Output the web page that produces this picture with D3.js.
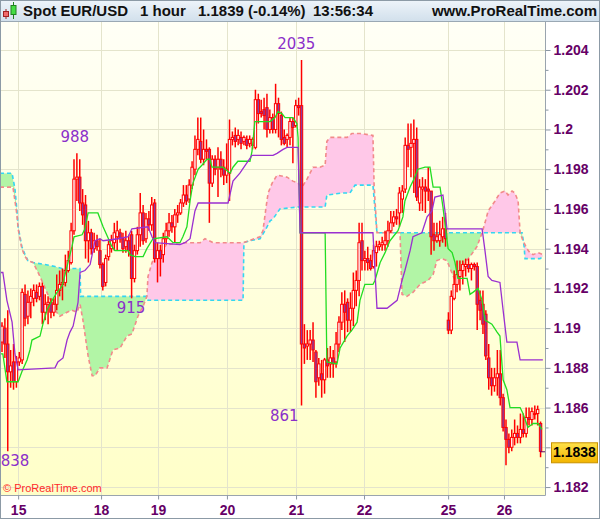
<!DOCTYPE html>
<html>
<head>
<meta charset="utf-8">
<script src="https://cdn.jsdelivr.net/npm/d3@7"></script>
<style>
body { margin: 0; background: #fff; }
svg { display: block; font-family: "Liberation Sans", Arial, sans-serif; }
</style>
</head>
<body>
<svg id="chart" width="600" height="519"></svg>
<script>
// hourly candles, one entry per bar (bar index = position)
var open = [
1.1893,1.1900,1.1892,1.1878,1.1883,1.1873,1.1883,1.1884,1.1917,1.1906,
1.1913,1.1915,1.1918,1.1916,1.1921,1.1908,1.1912,1.1913,1.1908,1.1912,
1.1919,1.1922,1.1923,1.1929,1.1933,1.1949,1.1975,1.1976,1.1963,1.1962,
1.1944,1.1948,1.1940,1.1944,1.1939,1.1932,1.1923,1.1936,1.1940,1.1943,
1.1946,1.1948,1.1945,1.1941,1.1944,1.1947,1.1925,1.1939,1.1947,1.1958,
1.1945,1.1955,1.1952,1.1963,1.1935,1.1939,1.1937,1.1945,1.1949,1.1953,
1.1951,1.1957,1.1958,1.1963,1.1967,1.1965,1.1972,1.1980,1.1990,1.1994,
1.1985,1.1990,1.1990,1.1973,1.1985,1.1981,1.1985,1.1981,1.1977,1.1978,
1.1995,1.1997,1.1995,1.1996,1.1994,1.1995,1.1993,1.1992,1.1991,1.2015,
1.2009,1.2010,1.2011,1.2000,1.2006,1.2000,1.2013,1.2007,1.1996,1.1995,
1.1996,1.2004,1.2002,1.2012,1.2012,1.1892,1.1891,1.1892,1.1894,1.1888,
1.1875,1.1877,1.1874,1.1884,1.1882,1.1885,1.1883,1.1892,1.1903,1.1912,
1.1913,1.1904,1.1910,1.1919,1.1924,1.1944,1.1934,1.1935,1.1934,1.1931,
1.1938,1.1941,1.1942,1.1942,1.1944,1.1949,1.1953,1.1956,1.1958,1.1965,
1.1970,1.1992,1.1991,1.1993,1.1995,1.1963,1.1970,1.1971,1.1970,1.1969,
1.1947,1.1944,1.1944,1.1946,1.1950,1.1904,1.1899,1.1915,1.1922,1.1926,
1.1929,1.1931,1.1932,1.1930,1.1932,1.1931,1.1914,1.1912,1.1907,1.1885,
1.1875,1.1871,1.1875,1.1877,1.1865,1.1850,1.1844,1.1840,1.1845,1.1847,
1.1845,1.1849,1.1847,1.1855,1.1854,1.1857,1.1857,1.1852];
var close = [
1.1901,1.1892,1.1878,1.1881,1.1873,1.1883,1.1885,1.1918,1.1905,1.1913,
1.1916,1.1919,1.1915,1.1921,1.1908,1.1912,1.1913,1.1908,1.1912,1.1919,
1.1922,1.1923,1.1929,1.1934,1.1949,1.1975,1.1976,1.1963,1.1957,1.1944,
1.1948,1.1940,1.1944,1.1941,1.1932,1.1921,1.1935,1.1942,1.1944,1.1948,
1.1949,1.1945,1.1940,1.1944,1.1939,1.1925,1.1939,1.1947,1.1958,1.1944,
1.1955,1.1952,1.1962,1.1935,1.1939,1.1935,1.1945,1.1949,1.1953,1.1951,
1.1957,1.1958,1.1963,1.1967,1.1964,1.1972,1.1981,1.1990,1.1995,1.1985,
1.1990,1.1989,1.1973,1.1985,1.1980,1.1985,1.1980,1.1977,1.1980,1.1995,
1.1996,1.1994,1.1997,1.1993,1.1996,1.1992,1.1995,1.1995,1.2015,1.2008,
1.2008,1.2007,1.2000,1.2006,1.2000,1.2013,1.2008,1.1995,1.1993,1.1997,
1.2004,1.2001,1.2012,1.2011,1.1892,1.1890,1.1892,1.1894,1.1889,1.1873,
1.1882,1.1874,1.1884,1.1881,1.1885,1.1882,1.1892,1.1903,1.1912,1.1908,
1.1904,1.1910,1.1919,1.1924,1.1943,1.1934,1.1935,1.1933,1.1930,1.1939,
1.1941,1.1942,1.1943,1.1944,1.1949,1.1953,1.1956,1.1955,1.1968,1.1969,
1.1992,1.1990,1.1993,1.1995,1.1966,1.1971,1.1971,1.1969,1.1969,1.1946,
1.1944,1.1946,1.1947,1.1950,1.1945,1.1899,1.1916,1.1922,1.1927,1.1929,
1.1932,1.1932,1.1930,1.1932,1.1931,1.1912,1.1909,1.1902,1.1886,1.1875,
1.1871,1.1875,1.1877,1.1865,1.1850,1.1844,1.1840,1.1845,1.1847,1.1845,
1.1849,1.1847,1.1855,1.1854,1.1858,1.1857,1.1859,1.1838];
var high = [
1.1903,1.1905,1.1909,1.1889,1.1892,1.1886,1.1888,1.1920,1.1922,1.1919,
1.1920,1.1922,1.1922,1.1923,1.1923,1.1917,1.1916,1.1915,1.1915,1.1927,
1.1929,1.1930,1.1937,1.1939,1.1953,1.1985,1.1988,1.1985,1.1970,1.1967,
1.1954,1.1950,1.1948,1.1947,1.1945,1.1933,1.1937,1.1944,1.1947,1.1953,
1.1954,1.1950,1.1948,1.1949,1.1947,1.1949,1.1942,1.1951,1.1968,1.1962,
1.1958,1.1959,1.1966,1.1965,1.1943,1.1942,1.1948,1.1953,1.1958,1.1957,
1.1960,1.1962,1.1965,1.1972,1.1972,1.1975,1.1984,1.1997,1.2006,1.2006,
1.2000,1.1995,1.1991,1.1987,1.1987,1.1991,1.1989,1.1985,1.1993,1.2005,
1.1999,1.2001,1.2000,1.1999,1.1997,1.1997,1.1997,1.1996,1.2020,1.2018,
1.2015,1.2016,1.2018,1.2010,1.2008,1.2023,1.2016,1.2009,1.2000,1.1998,
1.2006,1.2006,1.2015,1.2016,1.2035,1.1902,1.1899,1.1899,1.1903,1.1889,
1.1885,1.1884,1.1885,1.1890,1.1891,1.1889,1.1898,1.1906,1.1918,1.1919,
1.1915,1.1918,1.1928,1.1929,1.1953,1.1953,1.1939,1.1941,1.1937,1.1942,
1.1944,1.1944,1.1946,1.1949,1.1954,1.1959,1.1959,1.1960,1.1971,1.1972,
1.1996,1.2003,1.2003,1.2005,1.2001,1.1975,1.1976,1.1975,1.1981,1.1969,
1.1953,1.1953,1.1954,1.1956,1.1958,1.1908,1.1919,1.1929,1.1934,1.1934,
1.1934,1.1935,1.1935,1.1933,1.1933,1.1933,1.1919,1.1919,1.1909,1.1892,
1.1880,1.1880,1.1889,1.1889,1.1867,1.1854,1.1847,1.1849,1.1854,1.1851,
1.1857,1.1857,1.1860,1.1860,1.1860,1.1861,1.1861,1.1853];
var low = [
1.1888,1.1885,1.1838,1.1870,1.1869,1.1870,1.1881,1.1882,1.1901,1.1902,
1.1905,1.1911,1.1913,1.1914,1.1902,1.1904,1.1902,1.1905,1.1906,1.1909,
1.1916,1.1914,1.1921,1.1928,1.1932,1.1947,1.1964,1.1959,1.1952,1.1935,
1.1933,1.1937,1.1938,1.1939,1.1930,1.1919,1.1921,1.1934,1.1938,1.1939,
1.1939,1.1943,1.1938,1.1938,1.1936,1.1915,1.1923,1.1937,1.1941,1.1942,
1.1943,1.1949,1.1949,1.1933,1.1923,1.1926,1.1933,1.1942,1.1946,1.1948,
1.1943,1.1953,1.1957,1.1961,1.1962,1.1963,1.1970,1.1977,1.1987,1.1983,
1.1982,1.1985,1.1953,1.1971,1.1977,1.1966,1.1976,1.1972,1.1973,1.1964,
1.1992,1.1991,1.1992,1.1990,1.1992,1.1990,1.1991,1.1990,1.1990,1.2003,
1.2006,1.2000,1.1996,1.1998,1.1998,1.1998,1.1996,1.1992,1.1992,1.1991,
1.1992,1.1983,1.2001,1.2007,1.1861,1.1882,1.1884,1.1884,1.1883,1.1865,
1.1871,1.1865,1.1867,1.1875,1.1875,1.1875,1.1880,1.1888,1.1899,1.1893,
1.1898,1.1898,1.1901,1.1911,1.1916,1.1929,1.1929,1.1929,1.1929,1.1930,
1.1931,1.1939,1.1939,1.1939,1.1941,1.1948,1.1951,1.1952,1.1951,1.1958,
1.1968,1.1981,1.1976,1.1968,1.1964,1.1959,1.1959,1.1958,1.1964,1.1937,
1.1939,1.1943,1.1941,1.1943,1.1941,1.1897,1.1897,1.1914,1.1918,1.1919,
1.1922,1.1926,1.1928,1.1924,1.1929,1.1899,1.1904,1.1897,1.1884,1.1869,
1.1866,1.1868,1.1866,1.1861,1.1848,1.1831,1.1837,1.1838,1.1841,1.1842,
1.1842,1.1845,1.1845,1.1851,1.1851,1.1854,1.1851,1.1835];

// indicator lines as [bar index, price] vertices
var tenkan = [[-0.7,1.1887],[0.3,1.1887],[1.7,1.1873],[5.6,1.1873],[6.9,1.1878],[8.7,1.1884],[9.7,1.1889],
[10.4,1.1894],[13.2,1.1896],[14.2,1.1902],[15.6,1.1909],[17.4,1.1914],[19.1,1.1918],[20.8,1.1921],
[21.9,1.1927],[22.9,1.1933],[24.3,1.1941],[25,1.1946],[27.8,1.1947],[28.8,1.1950],[29.9,1.1958],
[33.3,1.1958],[35.1,1.1951],[38.2,1.1941],[39.2,1.1939],[43.8,1.1939],[44.4,1.1937],[46.2,1.1936],
[49,1.1936],[50.3,1.1940],[52.4,1.1945],[57.3,1.1946],[59.4,1.1943],[61.8,1.1943],[62.8,1.1946],
[64.2,1.1951],[65.3,1.1964],[66.3,1.1973],[68.1,1.1980],[69.4,1.1982],[71.2,1.1985],[72.2,1.1985],
[72.9,1.1981],[76.7,1.1981],[79.2,1.1978],[80.2,1.1981],[81.9,1.1984],[86.1,1.1984],[86.8,1.1989],
[87.8,1.2004],[93.1,1.2004],[94.8,1.2006],[95.8,1.2009],[97.2,1.2008],[98.3,1.2006],[101,1.2006],
[102.4,1.2003],[102.8,1.1996],[103.5,1.1948],[112.2,1.1948],[112.8,1.1883],[116.3,1.1882],
[117.4,1.1890],[119.8,1.1896],[121.5,1.1899],[123.3,1.1903],[124.3,1.1914],[126,1.1922],
[128.8,1.1922],[129.5,1.1924],[131.3,1.1933],[133,1.1938],[134.7,1.1944],[135.8,1.1946],
[137.5,1.1949],[139.2,1.1956],[139.9,1.1964],[141.7,1.1971],[142.7,1.1974],[144.4,1.1980],
[146.9,1.1981],[148.6,1.1981],[149.7,1.1971],[152.1,1.1971],[153.1,1.1961],[154.9,1.1940],
[156.3,1.1938],[157.3,1.1933],[158.3,1.1925],[161.5,1.1925],[162.5,1.1917],[163.5,1.1918],
[165.3,1.1920],[166.7,1.1914],[167.7,1.1904],[170.1,1.1902],[171.9,1.1898],[172.9,1.1896],
[174,1.1874],[175.3,1.1869],[176.4,1.1860],[179.9,1.1860],[180.9,1.1857],[182.6,1.1850],
[184.4,1.1852],[186.1,1.1852],[187.5,1.1849]];
var kijun = [[-0.7,1.1928],[0.3,1.1928],[1.7,1.1914],[3.5,1.1903],[4.5,1.1887],[5.6,1.1879],
[18.4,1.1880],[19.4,1.1883],[21.2,1.1885],[22.6,1.1894],[23.6,1.1898],[24.7,1.1901],[26.4,1.1913],
[27.1,1.1928],[28.8,1.1929],[30.6,1.1932],[32.3,1.1944],[34,1.1945],[35.1,1.1944],[40.3,1.1945],
[43.8,1.1946],[45.1,1.1950],[50.7,1.1951],[52.1,1.1946],[53.1,1.1943],[61.8,1.1942],[63.5,1.1943],
[65.3,1.1945],[67,1.1959],[68.1,1.1963],[78.5,1.1963],[80.2,1.1974],[82.6,1.1978],[86.8,1.1987],
[94.1,1.1987],[95.5,1.1988],[97.6,1.1990],[99,1.1991],[102.8,1.1991],[103.5,1.1948],[128.8,1.1948],
[130.2,1.1910],[133.7,1.1910],[137.2,1.1914],[138.9,1.1924],[139.9,1.1929],[141.7,1.1939],
[142.7,1.1946],[145.8,1.1948],[147.6,1.1956],[149.3,1.1959],[150.3,1.1966],[153.1,1.1967],
[153.8,1.1959],[154.5,1.1950],[166.7,1.1950],[167.7,1.1939],[168.8,1.1926],[170.1,1.1924],
[172.9,1.1923],[174,1.1909],[175.3,1.1893],[178.8,1.1893],[179.9,1.1884],[187.8,1.1884]];
// cloud edges
var spanA = [[-0.7,1.1971],[3.8,1.1971],[4.5,1.1964],[5.2,1.1957],[5.6,1.1950],[6.9,1.1940],[8,1.1936],
[9,1.1934],[10.8,1.1933],[13.2,1.1926],[15.6,1.1918],[18.4,1.1909],[20.1,1.1906],[22.6,1.1908],
[24.3,1.1909],[26,1.1908],[27.1,1.1912],[28.1,1.1904],[29.9,1.1886],[31.3,1.1876],[32.3,1.1876],
[34,1.1880],[36.5,1.1880],[38.5,1.1889],[41,1.1890],[43.4,1.1896],[45.1,1.1897],[47.2,1.1906],
[49,1.1911],[50.3,1.1916],[50.7,1.1926],[52.1,1.1933],[53.1,1.1936],[54.9,1.1939],[57.3,1.1942],
[61.8,1.1943],[68.8,1.1943],[70.5,1.1945],[73.3,1.1943],[83.7,1.1943],[89.6,1.1946],[90.6,1.1949],
[91.7,1.1961],[92.4,1.1968],[93.8,1.1973],[95.5,1.1977],[99,1.1976],[101,1.1974],[102.8,1.1973],
[104.2,1.1971],[105.9,1.1975],[108,1.1981],[110.4,1.1981],[112.2,1.1982],[112.8,1.1994],
[113.9,1.1996],[119.8,1.1996],[121.5,1.1998],[124.3,1.1998],[128.8,1.1997],[129.2,1.1972],
[130.2,1.1948],[138.2,1.1948],[138.9,1.1917],[140.6,1.1916],[142.7,1.1918],[145.1,1.1922],
[147.9,1.1924],[149.7,1.1927],[151,1.1934],[152.8,1.1935],[154.5,1.1934],[155.6,1.1930],
[157.3,1.1924],[160.1,1.1932],[162.5,1.1936],[164.9,1.1941],[166.7,1.1948],[167.7,1.1953],
[168.8,1.1959],[171.2,1.1964],[172.9,1.1968],[174.7,1.1969],[175.7,1.1967],[177.1,1.1969],
[178.1,1.1968],[179.2,1.1964],[179.9,1.1948],[180.9,1.1944],[182.3,1.1940],[183.3,1.1938],
[184.4,1.1937],[186.1,1.1938],[187.8,1.1937]];
var spanB = [[-0.7,1.1978],[3.5,1.1978],[4.5,1.1970],[5.2,1.1959],[5.6,1.1951],[6.9,1.1941],[8,1.1937],
[9,1.1934],[10.8,1.1933],[14.9,1.1932],[18.4,1.1931],[20.8,1.1930],[27.1,1.1930],[27.3,1.1916],
[50.3,1.1916],[50.7,1.1914],[83.7,1.1914],[84,1.1943],[86.1,1.1944],[89.6,1.1945],[91.3,1.1949],
[93.1,1.1954],[94.1,1.1955],[96.5,1.1960],[102.8,1.1961],[112.2,1.1961],[112.8,1.1967],
[118.1,1.1968],[120.8,1.1968],[122.6,1.1972],[128.8,1.1972],[130.2,1.1948],[180.6,1.1948],
[181.3,1.1941],[181.6,1.1935],[186.8,1.1935],[187.8,1.1936]];

var yTicks = [1.182,1.184,1.186,1.188,1.19,1.192,1.194,1.196,1.198,1.2,1.202,1.204];
var yMinor = [1.183,1.185,1.187,1.189,1.191,1.193,1.195,1.197,1.199,1.201,1.203];
var dayLabels = ['15','18','19','20','21','22','25','26'];
var dayIdx = [5.6, 34.4, 54.2, 78.1, 102.1, 125.7, 154.9, 174.3];

var swingText = ['838','988','915','861','2035'];
var swingIdx = [4.5, 25.3, 44.8, 98, 102.2];
var swingPrice = [1.1838, 1.1988, 1.1915, 1.1861, 1.2035];
var swingHigh = [false, true, false, false, true];

var lastPrice = 1.1838;

var plot = {left: 1, right: 545, top: 22, bottom: 495};
var svg = d3.select('#chart');
var defs = svg.append('defs');

var bg = defs.append('linearGradient').attr('id', 'bg')
    .attr('x1', 0).attr('y1', 0).attr('x2', 0).attr('y2', 1);
bg.append('stop').attr('offset', '0%').attr('stop-color', '#fffff6');
bg.append('stop').attr('offset', '100%').attr('stop-color', '#ffffc8');

var hg = defs.append('linearGradient').attr('id', 'hg')
    .attr('x1', 0).attr('y1', 0).attr('x2', 0).attr('y2', 1);
hg.append('stop').attr('offset', '0%').attr('stop-color', '#eef4fa');
hg.append('stop').attr('offset', '100%').attr('stop-color', '#d2e0ec');

var pg = defs.append('linearGradient').attr('id', 'pg')
    .attr('x1', 0).attr('y1', 0).attr('x2', 0).attr('y2', 1);
pg.append('stop').attr('offset', '0%').attr('stop-color', '#ffe24a');
pg.append('stop').attr('offset', '100%').attr('stop-color', '#f2b400');

defs.append('clipPath').attr('id', 'plotclip').append('rect')
    .attr('x', plot.left).attr('y', plot.top)
    .attr('width', plot.right - plot.left).attr('height', plot.bottom - plot.top);

var x = d3.scaleLinear().domain([0, 187]).range([2, 540.56]);
var y = d3.scaleLinear().domain([1.1816, 1.20541]).range([plot.bottom, plot.top]);

// background
svg.append('rect').attr('width', 600).attr('height', 519).attr('fill', '#fff');
svg.append('rect')
    .attr('x', plot.left).attr('y', plot.top)
    .attr('width', plot.right - plot.left).attr('height', plot.bottom - plot.top)
    .attr('fill', 'url(#bg)');

// grid
var grid = svg.append('g').attr('stroke', '#e4e4cc').attr('stroke-width', 1);
grid.selectAll('line.h').data(yTicks).enter().append('line')
    .attr('x1', plot.left).attr('x2', plot.right)
    .attr('y1', function (d) { return Math.round(y(d)) + 0.5; })
    .attr('y2', function (d) { return Math.round(y(d)) + 0.5; });
grid.selectAll('line.v').data(dayIdx).enter().append('line')
    .attr('y1', plot.top).attr('y2', plot.bottom)
    .attr('x1', function (d) { return Math.round(x(d)) + 0.5; })
    .attr('x2', function (d) { return Math.round(x(d)) + 0.5; });

var g = svg.append('g').attr('clip-path', 'url(#plotclip)');

// cloud
function px(d) { return [x(d[0]), y(d[1])]; }
var poly = spanA.map(px).concat(spanB.slice().reverse().map(px));
var bPts = spanB.map(px);
var x0 = bPts[0][0], x1 = bPts[bPts.length - 1][0];
var above = bPts.concat([[x1, 0], [x0, 0]]);
var below = bPts.concat([[x1, 600], [x0, 600]]);
defs.append('clipPath').attr('id', 'above').append('path')
    .attr('d', 'M' + above.join('L') + 'Z');
defs.append('clipPath').attr('id', 'below').append('path')
    .attr('d', 'M' + below.join('L') + 'Z');
g.append('path').attr('d', 'M' + poly.join('L') + 'Z')
    .attr('fill', '#ffc8e8').attr('clip-path', 'url(#above)');
g.append('path').attr('d', 'M' + poly.join('L') + 'Z')
    .attr('fill', '#b2f5a6').attr('clip-path', 'url(#below)');

var line = d3.line().x(function (d) { return x(d[0]); }).y(function (d) { return y(d[1]); });
g.append('path').datum(spanB).attr('d', line)
    .attr('fill', 'none').attr('stroke', '#33d6f2').attr('stroke-width', 1.6)
    .attr('stroke-dasharray', '4,3');
g.append('path').datum(spanA).attr('d', line)
    .attr('fill', 'none').attr('stroke', '#f28a8a').attr('stroke-width', 1.6)
    .attr('stroke-dasharray', '4,3');

// candles
var candles = g.append('g').selectAll('g').data(open).enter().append('g');
candles.append('line')
    .attr('x1', function (d, i) { return x(i); })
    .attr('x2', function (d, i) { return x(i); })
    .attr('y1', function (d, i) { return y(high[i]); })
    .attr('y2', function (d, i) { return y(low[i]); })
    .attr('stroke', '#ff0000').attr('stroke-width', 1.5);
candles.append('rect')
    .attr('x', function (d, i) { return x(i) - 1.2; })
    .attr('width', 2.4)
    .attr('y', function (d, i) { return y(Math.max(open[i], close[i])); })
    .attr('height', function (d, i) { return Math.max(1, Math.abs(y(open[i]) - y(close[i]))); })
    .attr('fill', function (d, i) { return close[i] < open[i] ? '#8c3aa0' : '#ffffff'; })
    .attr('stroke', '#ff0000').attr('stroke-width', 1);

// tenkan / kijun
g.append('path').datum(tenkan).attr('d', line)
    .attr('fill', 'none').attr('stroke', '#22dd22').attr('stroke-width', 1.3);
g.append('path').datum(kijun).attr('d', line)
    .attr('fill', 'none').attr('stroke', '#9a2fd0').attr('stroke-width', 1.3);

// swing labels
svg.append('g').selectAll('text').data(swingText).enter().append('text')
    .attr('x', function (d, i) { return x(swingIdx[i]); })
    .attr('y', function (d, i) { return swingHigh[i] ? y(swingPrice[i]) - 11 : y(swingPrice[i]) + 15; })
    .attr('text-anchor', 'middle')
    .attr('font-family', '"DejaVu Sans", sans-serif')
    .attr('font-size', 15).attr('fill', '#8b2fc9')
    .text(function (d) { return d; });

svg.append('text').attr('x', 3).attr('y', 492)
    .attr('font-size', 11).attr('fill', '#ff2a2a')
    .text('\u00a9 ProRealTime.com');

// frame lines
svg.append('line').attr('x1', plot.right + 0.5).attr('x2', plot.right + 0.5)
    .attr('y1', plot.top).attr('y2', plot.bottom + 0.5)
    .attr('stroke', '#9aa4ae');
svg.append('line').attr('x1', 0).attr('x2', plot.right + 0.5)
    .attr('y1', plot.bottom + 0.5).attr('y2', plot.bottom + 0.5)
    .attr('stroke', '#9aa4ae');

// right axis; the label under the last-price box is left out
var ly = y(lastPrice);
var yAxis = d3.axisRight(y).tickValues(yTicks).tickSize(5).tickPadding(3)
    .tickFormat(function (d) { return Math.abs(y(d) - ly) < 14 ? '' : d3.format('.3~f')(d); });
var ya = svg.append('g').attr('transform', 'translate(' + (plot.right + 0.5) + ',0)').call(yAxis);
var yAxisMinor = d3.axisRight(y).tickValues(yMinor).tickSize(3).tickFormat('');
var ym = svg.append('g').attr('transform', 'translate(' + (plot.right + 0.5) + ',0)').call(yAxisMinor);
[ya, ym].forEach(function (a) {
    a.select('.domain').remove();
    a.selectAll('line').attr('stroke', '#8a96a2');
});
ya.selectAll('text').attr('fill', '#660066').attr('font-size', 14)
    .attr('font-weight', 'bold').attr('font-family', '"Liberation Sans", Arial, sans-serif');

// bottom axis
var xAxis = d3.axisBottom(x).tickValues(dayIdx).tickSize(4).tickPadding(6)
    .tickFormat(function (d, i) { return dayLabels[i]; });
var xa = svg.append('g').attr('transform', 'translate(0,' + (plot.bottom + 0.5) + ')').call(xAxis);
xa.select('.domain').remove();
xa.selectAll('line').attr('stroke', '#8a96a2');
xa.selectAll('text').attr('fill', '#660066').attr('font-size', 14)
    .attr('font-weight', 'bold').attr('font-family', '"Liberation Sans", Arial, sans-serif');

// last price marker
svg.append('line').attr('x1', plot.right - 5).attr('x2', plot.right)
    .attr('y1', ly + 0.5).attr('y2', ly + 0.5).attr('stroke', '#660066');
svg.append('rect').attr('x', 551.5).attr('y', ly - 8.5).attr('width', 46).attr('height', 20)
    .attr('fill', 'url(#pg)').attr('stroke', '#c89200');
svg.append('text').attr('x', 574.5).attr('y', ly + 6)
    .attr('text-anchor', 'middle').attr('font-size', 14).attr('font-weight', 'bold')
    .attr('fill', '#000').text(d3.format('.4f')(lastPrice));

// header
svg.append('rect').attr('width', 600).attr('height', 21).attr('fill', 'url(#hg)');
svg.append('line').attr('x1', 0).attr('x2', 600).attr('y1', 21.5).attr('y2', 21.5)
    .attr('stroke', '#9aa8b4');
var icon = svg.append('g');
icon.append('line').attr('x1', 6).attr('x2', 6).attr('y1', 9).attr('y2', 19).attr('stroke', '#a02020');
icon.append('rect').attr('x', 3.5).attr('y', 11.5).attr('width', 5).attr('height', 5)
    .attr('fill', '#f06a6a').attr('stroke', '#a02020');
icon.append('line').attr('x1', 13.5).attr('x2', 13.5).attr('y1', 2).attr('y2', 19).attr('stroke', '#208020');
icon.append('rect').attr('x', 11).attr('y', 5.5).attr('width', 5).attr('height', 9)
    .attr('fill', '#44dd44').attr('stroke', '#208020');

var header = [['Spot EUR/USD', 23], ['1 hour', 140], ['1.1839 (-0.14%)', 198], ['13:56:34', 313]];
svg.append('g').selectAll('text').data(header).enter().append('text')
    .attr('x', function (d) { return d[1]; }).attr('y', 16)
    .attr('font-size', 15).attr('font-weight', 'bold').attr('fill', '#111')
    .text(function (d) { return d[0]; });
svg.append('text').attr('x', 597).attr('y', 16).attr('text-anchor', 'end')
    .attr('font-size', 15).attr('font-weight', 'bold').attr('fill', '#111')
    .text('www.ProRealTime.com');

// outer border
svg.append('rect').attr('x', 0.5).attr('y', 0.5).attr('width', 599).attr('height', 518)
    .attr('fill', 'none').attr('stroke', '#8c9aa6');
</script>
</body>
</html>
